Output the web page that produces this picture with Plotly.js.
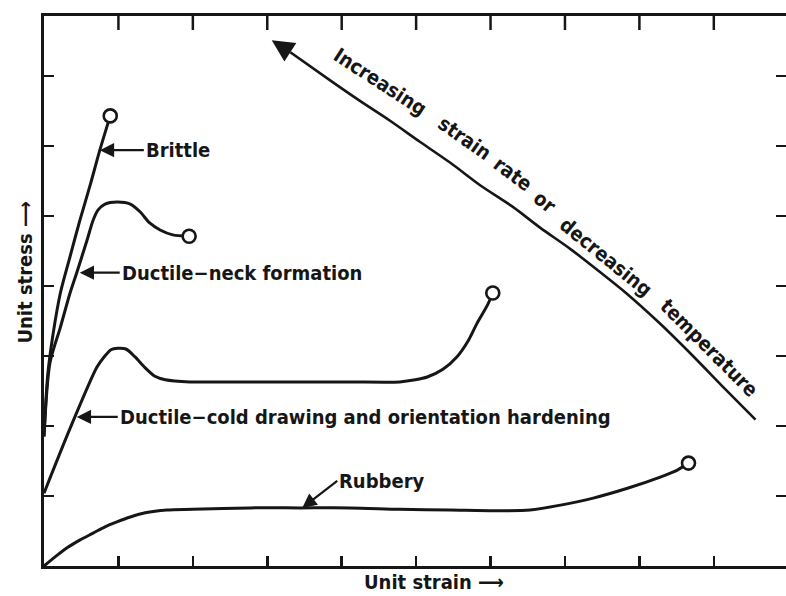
<!DOCTYPE html>
<html>
<head>
<meta charset="utf-8">
<script src="https://cdn.plot.ly/plotly-3.0.1.min.js"></script>
<style>html,body{margin:0;padding:0;background:#fff;}#chart{width:786px;height:596px;}</style>
</head>
<body>
<div id="chart"></div>
<script>
// ---- data (unit strain, unit stress) ----
const brittleStrain = [0, 0.05, 0.12, 0.22, 0.35, 0.48, 0.62, 0.75, 0.89];
const brittleStress = [1.85, 2.73, 3.30, 3.90, 4.42, 4.93, 5.44, 5.94, 6.43];

const neckStrain = [0, 0.08, 0.22, 0.35, 0.44, 0.58, 0.66, 0.73, 0.82, 0.98, 1.16, 1.29, 1.42, 1.56, 1.73, 1.95];
const neckStress = [1.85, 2.90, 3.41, 3.90, 4.19, 4.66, 4.94, 5.09, 5.17, 5.20, 5.17, 5.06, 4.90, 4.80, 4.73, 4.71];

const coldStrain = [0, 0.36, 0.71, 0.81, 0.90, 0.99, 1.10, 1.22, 1.36, 1.49, 1.63, 1.96, 2.77, 3.44, 4.11, 4.78, 4.99, 5.15, 5.36, 5.55, 5.69, 5.82, 5.96, 6.03];
const coldStress = [1.04, 1.99, 2.84, 2.99, 3.09, 3.11, 3.10, 2.99, 2.83, 2.71, 2.66, 2.63, 2.63, 2.63, 2.63, 2.63, 2.66, 2.70, 2.81, 2.99, 3.20, 3.47, 3.73, 3.90];

const rubberStrain = [0, 0.15, 0.31, 0.48, 0.66, 0.82, 0.98, 1.16, 1.36, 1.65, 2.00, 2.77, 3.44, 4.11, 4.78, 5.46, 6.13, 6.53, 6.94, 7.38, 7.84, 8.28, 8.51, 8.66];
const rubberStress = [0, 0.13, 0.26, 0.37, 0.47, 0.56, 0.63, 0.70, 0.76, 0.80, 0.81, 0.83, 0.83, 0.83, 0.81, 0.80, 0.79, 0.80, 0.87, 0.97, 1.11, 1.27, 1.37, 1.47];

// trend arrow (tail ... to head)
const trendStrain = [9.56, 9.15, 8.72, 8.28, 7.82, 7.47, 7.07, 6.67, 6.30, 5.86, 5.46, 5.05, 4.65, 4.25, 3.84, 3.31, 3.06];
const trendStress = [2.09, 2.53, 3.00, 3.46, 3.90, 4.20, 4.53, 4.83, 5.13, 5.44, 5.76, 6.06, 6.36, 6.64, 6.94, 7.34, 7.51];

const trendWords  = ["Increasing", "strain", "rate", "or", "decreasing", "temperature"];
const wordStrain  = [4.52, 5.65, 6.30, 6.73, 7.55, 8.94];
const wordStress  = [6.91, 6.11, 5.60, 5.20, 4.41, 3.11];
const wordAngle   = [33, 35, 37, 38, 39, 45];

const curveLabels = ["Brittle", "Ductile−neck formation", "Ductile−cold drawing and orientation hardening", "Rubbery"];
const xTicks = [1, 2, 3, 4, 5, 6, 7, 8, 9];
const yTicks = [1, 2, 3, 4, 5, 6, 7];

// ---- styling ----
const INK = "#161616";
const FONT = "'DejaVu Sans Condensed', 'DejaVu Sans', sans-serif";
const XR = [0, 9.97], YR = [0, 7.857];

function curve(x, y, name) {
  return {x: x, y: y, mode: "lines", name: name, type: "scatter",
          line: {color: INK, width: 3, shape: "spline", smoothing: 0.8},
          hoverinfo: "skip", showlegend: false, cliponaxis: false};
}
const series = [
  [brittleStrain, brittleStress],
  [neckStrain, neckStress],
  [coldStrain, coldStress],
  [rubberStrain, rubberStress]
];
const traces = series.map((s, i) => curve(s[0], s[1], curveLabels[i]));

// trend line (without final segment to head, head drawn by annotation)
const nT = trendStrain.length;
traces.push({
  x: trendStrain.slice(0, nT - 1), y: trendStress.slice(0, nT - 1),
  mode: "lines", type: "scatter", showlegend: false, hoverinfo: "skip",
  line: {color: INK, width: 2.6, shape: "spline", smoothing: 0.8}
});

// top-frame tick marks: vertical tick symbols sitting on the upper frame, clipped to the plot area
traces.push({
  x: xTicks, y: xTicks.map(() => YR[1]),
  mode: "markers", type: "scatter", showlegend: false, hoverinfo: "skip", cliponaxis: true,
  marker: {symbol: "line-ns", size: 20, color: INK, line: {color: INK, width: 2.5}}
});

// fracture end points (open circles) - on the right-hand overlay axis (same range)
traces.push({
  x: series.map(s => s[0][s[0].length - 1]),
  y: series.map(s => s[1][s[1].length - 1]),
  yaxis: "y2",
  mode: "markers", type: "scatter", showlegend: false, hoverinfo: "skip", cliponaxis: false,
  marker: {symbol: "circle", size: 13, color: "#ffffff", line: {color: INK, width: 2.6}}
});

const annotations = [];
// trend arrow head
annotations.push({
  x: trendStrain[nT - 1], y: trendStress[nT - 1], xref: "x", yref: "y",
  ax: trendStrain[nT - 2], ay: trendStress[nT - 2], axref: "x", ayref: "y",
  text: "", showarrow: true, arrowhead: 2, arrowsize: 1.7, arrowwidth: 2.6, arrowcolor: INK
});
// words along the trend arrow
trendWords.forEach((w, i) => {
  annotations.push({
    x: wordStrain[i], y: wordStress[i], xref: "x", yref: "y", text: w, showarrow: false,
    textangle: wordAngle[i], font: {family: FONT, size: 20, color: INK, weight: "bold"}
  });
});
// curve labels with arrows pointing at the curves
const labelTip = [[0.75, 5.94], [0.48, 4.19], [0.44, 2.13], [3.47, 0.83]];
const labelAx = [44, 40, 41, 35];
const labelAy = [0, 0, 0, -27];
curveLabels.forEach((t, i) => {
  annotations.push({
    x: labelTip[i][0], y: labelTip[i][1], xref: "x", yref: "y",
    ax: labelAx[i], ay: labelAy[i], text: t, showarrow: true,
    xanchor: "left", yanchor: "middle",
    arrowhead: 2, arrowsize: 1.3, arrowwidth: 2.2, arrowcolor: INK, standoff: 0,
    font: {family: FONT, size: 20, color: INK, weight: "bold"}
  });
});
// axis titles
annotations.push({
  xref: "paper", yref: "paper", x: -0.026, y: 0.533, xanchor: "center", yanchor: "middle",
  text: "Unit stress ⟶", textangle: -90,
  showarrow: false, font: {family: FONT, size: 20, color: INK, weight: "bold"}
});
annotations.push({
  xref: "paper", yref: "paper", x: 0.526, y: -0.0525, xanchor: "center", yanchor: "bottom",
  text: "Unit strain ⟶", borderpad: 0,
  showarrow: false, font: {family: FONT, size: 20, color: INK, weight: "bold"}
});

const axisCommon = {
  showgrid: false, zeroline: false, showticklabels: false,
  ticks: "inside", ticklen: 10, tickwidth: 2.5, tickcolor: INK,
  linecolor: INK, linewidth: 3, fixedrange: true, title: {text: ""}
};

const layout = {
  width: 786, height: 596,
  margin: {l: 44, r: 0, t: 16, b: 30, pad: 0},
  paper_bgcolor: "#ffffff", plot_bgcolor: "#ffffff",
  showlegend: false,
  xaxis: Object.assign({}, axisCommon, {range: XR, tickvals: xTicks, showline: true, mirror: true}),
  yaxis: Object.assign({}, axisCommon, {range: YR, tickvals: yTicks, showline: true, mirror: false}),
  yaxis2: Object.assign({}, axisCommon, {range: YR, tickvals: yTicks, showline: false,
    overlaying: "y", side: "right"}),
  annotations: annotations
};

Plotly.newPlot("chart", traces, layout, {staticPlot: true, displayModeBar: false});
</script>
</body>
</html>
